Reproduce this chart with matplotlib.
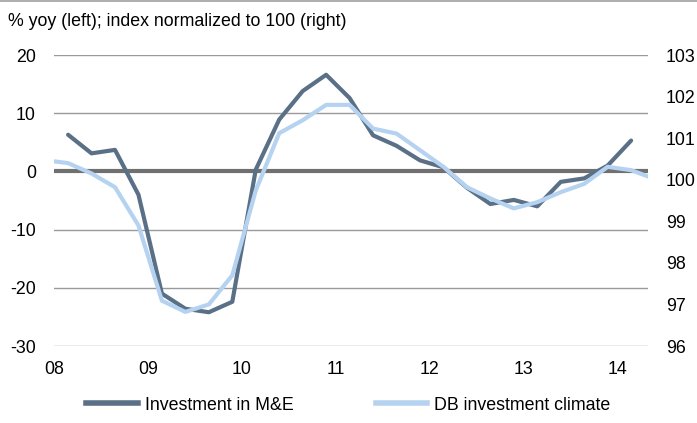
import matplotlib
matplotlib.use("Agg")
import matplotlib.pyplot as plt
from matplotlib.lines import Line2D

plt.rcParams['font.family'] = ['Liberation Sans', 'DejaVu Sans']

# Quarterly observation times (year fractions)
me_times = [2008.15 + 0.25 * k for k in range(25)]
# Investment in M&E, % yoy (left axis)
me_values = [6.3, 3.1, 3.7, -4.0, -21.0, -23.6, -24.2, -22.4, 0.3, 8.9,
             13.8, 16.6, 12.6, 6.2, 4.4, 1.9, 0.7, -2.8, -5.6, -4.9,
             -6.0, -1.8, -1.2, 1.0, 5.3]

# DB investment climate, index = 100 (right axis)
db_times = [2007.9] + [2008.15 + 0.25 * k for k in range(25)] + [2014.4]
db_values = [100.47, 100.40, 100.15, 99.82, 98.90, 97.09, 96.82, 97.00, 97.70,
             99.74, 101.12, 101.43, 101.80, 101.80, 101.23, 101.11, 100.71,
             100.31, 99.82, 99.55, 99.31, 99.46, 99.70, 99.90, 100.31, 100.23,
             100.02]

x_ticks = [2008, 2009, 2010, 2011, 2012, 2013, 2014]
x_labels = ['08', '09', '10', '11', '12', '13', '14']
left_ticks = [-30, -20, -10, 0, 10, 20]
right_ticks = [96, 97, 98, 99, 100, 101, 102, 103]

dark = '#5a7087'
light = '#b5d3f0'
fs = 12.8

fig = plt.figure(figsize=(6.97, 4.23), dpi=100)
ax = fig.add_axes([54/697, 1 - 346/423, (648-54)/697, (346-55)/423])
ax2 = ax.twinx()

for y in left_ticks:
    if y == 0:
        continue
    ax.axhline(y, color='#9a9a9a', lw=1.0, zorder=1)
ax.axhline(0, color='#707070', lw=3.0, zorder=2)

ax.plot(me_times, me_values, color=dark, lw=3.0, zorder=3, solid_capstyle='round')
ax2.plot(db_times, db_values, color=light, lw=3.0, zorder=3, solid_capstyle='round')

ax.set_xlim(2008, 2014.33)
ax.set_ylim(-30, 20)
ax2.set_ylim(96, 103)
ax.set_xticks(x_ticks)
ax.set_xticklabels(x_labels)
ax.set_yticks(left_ticks)
ax.set_yticklabels([str(v) for v in left_ticks])
ax2.set_yticks(right_ticks)
ax2.set_yticklabels([str(v) for v in right_ticks])

for a in (ax, ax2):
    for s in a.spines.values():
        s.set_visible(False)
ax.tick_params(axis='both', length=0, labelsize=fs, colors='black')
ax.tick_params(axis='y', pad=13)
ax.tick_params(axis='x', pad=11)
ax2.tick_params(axis='y', length=0, labelsize=fs, pad=13)

fig.text(8/697, 1 - 22/423, '% yoy (left); index normalized to 100 (right)',
         fontsize=fs, va='center', ha='left')
fig.add_artist(Line2D([0, 1], [1 - 1/423, 1 - 1/423], color='#a0a0a0', lw=1.2,
                      transform=fig.transFigure))

handles = [Line2D([], [], color=dark, lw=4.0),
           Line2D([], [], color=light, lw=4.0)]
fig.legend(handles, ['Investment in M&E', 'DB investment climate'],
           loc='center', bbox_to_anchor=(0.5, 1 - 405/423), ncol=2,
           frameon=False, fontsize=fs, handlelength=2.9, handletextpad=0.4,
           columnspacing=4.6)

fig.savefig('out.png', dpi=100)
